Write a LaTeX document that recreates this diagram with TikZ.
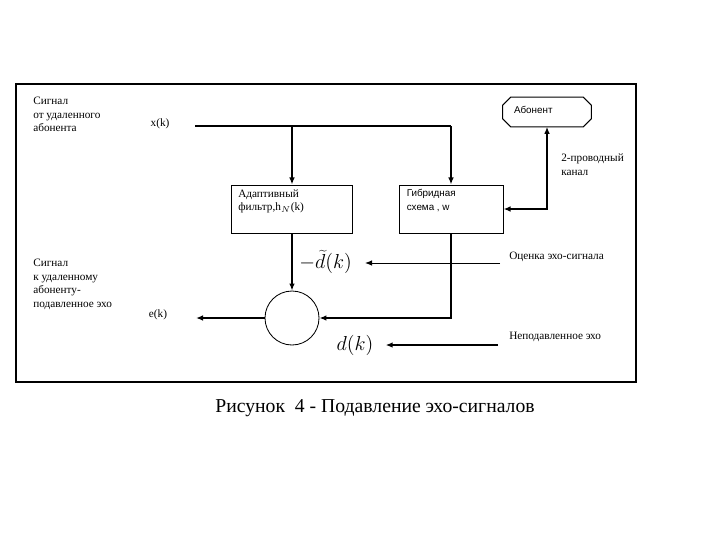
\documentclass[tikz,border=0pt]{standalone}
\usepackage{fontspec}
\setmainfont{Liberation Serif}
\newfontfamily\hybfont{Liberation Sans}
\usepackage{tikz}
\usetikzlibrary{shapes.geometric, arrows.meta, positioning, calc}
\tikzstyle{block} = [rectangle, draw=black, line width=0.7pt, minimum width=3.025cm, minimum height=1.2cm, inner sep=0pt]
\tikzstyle{sumnode} = [circle, draw=black, line width=0.6pt, minimum size=1.35cm, inner sep=0pt]
\tikzstyle{lbl} = [inner sep=0pt, align=left, font=\fontsize{8}{9.6}\selectfont]
\tikzstyle{sanslbl} = [inner sep=0pt, align=left, font=\hybfont\fontsize{7}{10}\selectfont]
\tikzstyle{mathlbl} = [inner sep=0pt, font=\fontsize{14}{16}\selectfont]
\tikzstyle{arrow} = [line width=1.6pt, -{Latex[length=5pt,width=4pt]}]
\tikzstyle{thinarrow} = [line width=0.7pt, -{Latex[length=5pt,width=4pt]}]

\begin{document}
\begin{tikzpicture}[x=0.025cm, y=-0.025cm]
  \useasboundingbox (0,0) rectangle (720,540);

  % frame
  \draw[line width=1pt] (16,84) rectangle (636,382);

  % Blocks
  \node[block] (filter) at (292,209) {};
  \node[block, minimum width=2.6cm] (hybrid) at (451,209) {};
  \node[rectangle, minimum width=2.2cm, minimum height=0.725cm, inner sep=0pt] (abonent) at (547,112) {};
  \draw[line width=0.7pt] ($(abonent.north west)+(8,0)$) -- ($(abonent.north east)+(-8,0)$)
    -- ($(abonent.north east)+(0,8)$) -- ($(abonent.south east)+(0,-8)$)
    -- ($(abonent.south east)+(-8,0)$) -- ($(abonent.south west)+(8,0)$)
    -- ($(abonent.south west)+(0,-8)$) -- ($(abonent.north west)+(0,8)$) -- cycle;
  \node[sumnode] (sum) at (292,318) {};

  % Texts in blocks
  \node[lbl, anchor=north west] (filtertxt) at ($(filter.north west)+(7,5)$) {Адаптивный\\фильтр,h$_N$(k)};
  \node[sanslbl, anchor=north west] (hybridtxt) at ($(hybrid.north west)+(8,4)$) {Гибридная\\схема , w};
  \node[sanslbl, anchor=west] (abonenttxt) at ($(abonent.west)+(11,-2)$) {Абонент};

  % Side texts
  \node[lbl, anchor=north west] (farin) at (33,97) {Сигнал\\от удаленного\\абонента};
  \node[lbl, anchor=north west] (farout) at (33,259) {Сигнал\\к удаленному\\абоненту-\\подавленное эхо};
  \node[lbl] (xk) at (160,124) {x(k)};
  \node[lbl] (ek) at (158,315) {e(k)};
  \node[lbl, anchor=north west] (twowire) at (561,154) {2-проводный\\канал};
  \node[lbl, anchor=west] (estlbl) at (509,257) {Оценка эхо-сигнала};
  \node[lbl, anchor=west] (echolbl) at (509,337) {Неподавленное эхо};
  \node[mathlbl, anchor=west] (dtil) at (299,262) {$-\widetilde{d}(k)$};
  \node[mathlbl] (dk) at (355,345) {$d(k)$};

  % Caption
  \node[font=\fontsize{14}{16}\selectfont] (caption) at (375,408) {Рисунок~~4 - Подавление эхо-сигналов};

  % free ends
  \coordinate (xin) at (195,126);
  \coordinate (eout) at (196,318);
  \coordinate (eststart) at (500,263);
  \coordinate (echostart) at (498,345);

  % Arrows
  \draw[line width=1.6pt] (xin) -- (xin -| hybrid);
  \draw[arrow] (xin -| filter) -- (filter.north);
  \draw[arrow] (xin -| hybrid) -- (hybrid.north);
  \draw[line width=1.6pt, {Latex[length=5pt,width=4pt]}-{Latex[length=5pt,width=4pt]}] (hybrid.east) -- (hybrid.east -| abonent.south) -- (abonent.south);
  \draw[arrow] (filter.south) -- (sum.north);
  \draw[arrow] (hybrid.south) |- (sum.east);
  \draw[arrow] (sum.west) -- (eout);
  \draw[thinarrow] (eststart) -- ($(dtil.east)+(13,1)$);
  \draw[arrow] (echostart) -- ($(dk.east)+(12,0)$);

\end{tikzpicture}
\end{document}
